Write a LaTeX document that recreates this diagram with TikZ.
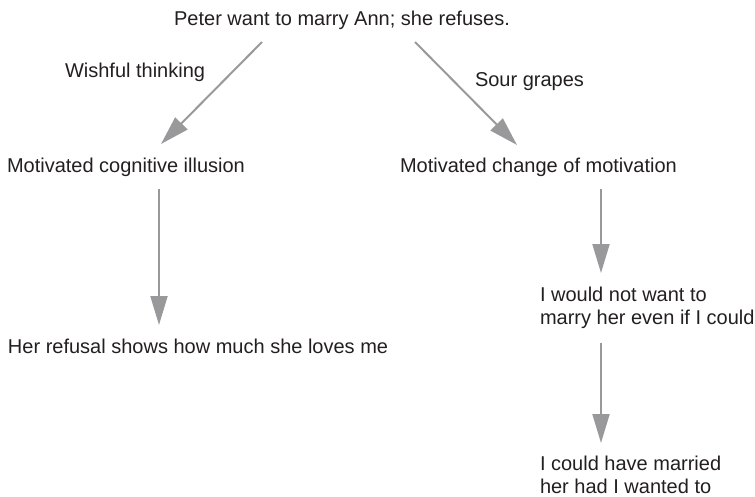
\documentclass[tikz,border=0pt]{standalone}
\usepackage{fontspec}
\setmainfont{Liberation Sans}
\usetikzlibrary{arrows.meta,calc}
\definecolor{arrowgray}{RGB}{153,153,155}
\definecolor{inkdark}{RGB}{35,31,32}
\begin{document}
\begin{tikzpicture}[x=1pt,y=-1pt,
  lbl/.style={inner sep=0pt,outer sep=0pt,text=inkdark,
    font=\fontsize{20}{23.5}\selectfont},
  arr/.style={draw=arrowgray,line width=2pt,
    -{Triangle[length=29pt,width=17pt]},fill=arrowgray}]
  \useasboundingbox (0,0) rectangle (755,496);

  % statements
  \node[lbl,anchor=base] (top) at (342,25) {Peter want to marry Ann; she refuses.};
  \node[lbl,anchor=base west] (wish) at (65,77) {Wishful thinking};
  \node[lbl,anchor=base west] (sour) at (475,86) {Sour grapes};
  \node[lbl,anchor=base west] (mci) at (7,172) {Motivated cognitive illusion};
  \node[lbl,anchor=base west] (mcm) at (400,172) {Motivated change of motivation};
  \node[lbl,anchor=base west] (her) at (8,353) {Her refusal shows how much she loves me};
  \node[lbl,anchor=north west,align=left] (wnw) at (540,286.7)
    {I would not want to\\marry her even if I could};
  \node[lbl,anchor=north west,align=left] (chm) at (540,455.7)
    {I could have married\\her had I wanted to};

  % connectors
  \draw[arr] ($(top.base)+(-80,17)$) -- ($(mci.base west)+(154,-28)$);
  \draw[arr] ($(top.base)+(73,17)$) -- ($(mcm.base west)+(117,-27)$);
  \draw[arr] ($(mci.base west)+(152,17)$) -- ($(her.base west)+(151,-28)$);
  \draw[arr] ($(mcm.base west)+(201,17)$) -- ($(wnw.north west)+(61,-13.7)$);
  \draw[arr] ($(wnw.south west)+(61,13.8)$) -- ($(chm.north west)+(61,-12.7)$);
\end{tikzpicture}
\end{document}
